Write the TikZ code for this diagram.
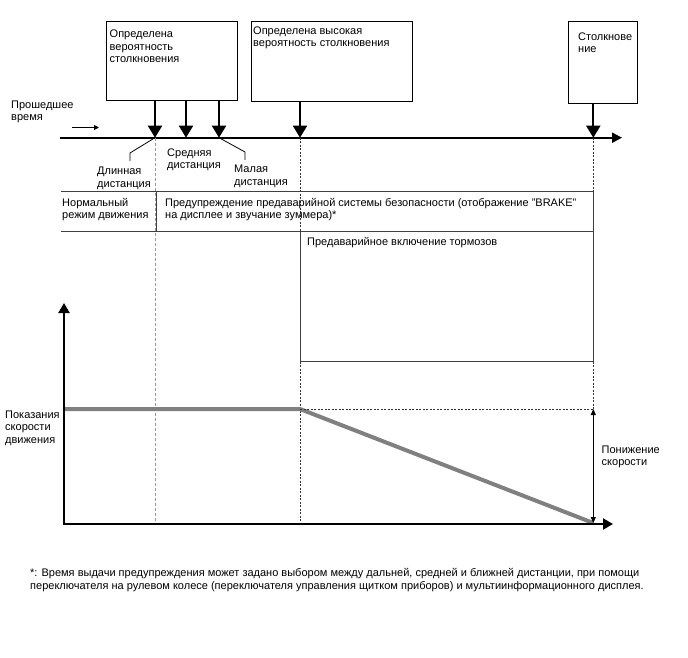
\documentclass[tikz,border=0pt]{standalone}
\usepackage{fontspec}
\setmainfont{Liberation Sans}
\usetikzlibrary{arrows.meta}
\begin{document}
\begin{tikzpicture}[x=1pt,y=-1pt,
  txt/.style={font=\fontsize{11}{12.5}\selectfont, inner sep=0pt, anchor=base west, align=left},
  evbox/.style={draw=black, line width=1pt, anchor=north west, inner sep=0pt},
  evarrow/.style={line width=2pt, -{Triangle[width=14pt,length=12pt]}},
  leader/.style={line width=0.8pt, black},
  tline/.style={draw=black!75, line width=1pt},
  axis/.style={line width=2.2pt, -{Triangle[width=11pt,length=10pt]}},
  gdash/.style={draw=black!40, line width=1pt, dash pattern=on 3pt off 2pt},
  kdot/.style={draw=black!80, line width=1pt, dash pattern=on 2pt off 1.5pt},
  speed/.style={draw=black!50, line width=4pt},
]
\useasboundingbox (0,0) rectangle (688,658);

% event boxes
\node[evbox, minimum width=131pt, minimum height=79pt] (b1) at (106,21) {};
\node[evbox, minimum width=161pt, minimum height=80pt] (b2) at (251,21) {};
\node[evbox, minimum width=69pt, minimum height=82pt] (b3) at (568,21) {};
\node[txt] (t1) at (109.5,63) {Определена\\вероятность\\столкновения};
\node[txt] (t2) at (253,47) {Определена высокая\\вероятность столкновения};
\node[txt] (t3) at (578,53) {Столкнове\\ние};

% timeline
\coordinate (tl0) at (60,137.7);
\coordinate (tl1) at (622,137.7);
\draw[line width=2pt, -{Triangle[width=10pt,length=10pt]}] (tl0) -- (tl1);
\node[txt] (elapsed) at (11,121) {Прошедшее\\время};
\coordinate (ea0) at (72,127.5);
\coordinate (ea1) at (99,127.5);
\draw[line width=1pt, -{Triangle[width=5pt,length=5pt]}] (ea0) -- (ea1);

% event points on timeline
\coordinate (pL) at (155,137.7);
\coordinate (pM) at (186,137.7);
\coordinate (pS) at (219,137.7);
\coordinate (pH) at (300,137.7);
\coordinate (pC) at (593.3,137.7);
\draw[evarrow] (b1.south -| pL) -- (pL);
\draw[evarrow] (b1.south -| pM) -- (pM);
\draw[evarrow] (b1.south -| pS) -- (pS);
\draw[evarrow] (b2.south -| pH) -- (pH);
\draw[evarrow] (b3.south -| pC) -- (pC);

% distance labels
\node[txt] (long) at (97,187) {Длинная\\дистанция};
\node[txt] (mid) at (167,168.5) {Средняя\\дистанция};
\node[txt] (short) at (234,185) {Малая\\дистанция};
\coordinate (lk1) at (130,153);
\coordinate (lk2) at (130,161);
\coordinate (sk1) at (245,152);
\coordinate (sk2) at (245,160);
\draw[leader] (pL) -- (lk1) -- (lk2);
\draw[leader] (pS) -- (sk1) -- (sk2);

% vertical guide lines
\coordinate (gL) at (155,524);
\coordinate (gH) at (300,524);
\coordinate (gC) at (593.3,409);
\draw[gdash] (pL) -- (gL);
\draw[kdot] (pH) -- (gH);
\draw[kdot] (pC) -- (gC);

% table
\coordinate (r0) at (61,191);
\coordinate (r1) at (593.3,191);
\coordinate (r2) at (61,231);
\coordinate (r3) at (593.3,231);
\coordinate (n0) at (156.5,191);
\coordinate (n1) at (156.5,231);
\coordinate (br0) at (300,231);
\coordinate (br1) at (300,361);
\coordinate (br2) at (593.3,361);
\draw[tline] (r0) -- (r1);
\draw[tline] (r2) -- (r3);
\draw[tline] (n0) -- (n1);
\draw[tline] (r1) -- (br2) -- (br1) -- (br0);
\node[txt] (normal) at (62,218.5) {Нормальный\\режим движения};
\node[txt] (warn) at (165,218.5) {Предупреждение предаварийной системы безопасности (отображение "BRAKE"\\на дисплее и звучание зуммера)*};
\node[txt] (brake) at (307,245) {Предаварийное включение тормозов};

% speed graph
\coordinate (o) at (64,524);
\coordinate (yt) at (64,303);
\coordinate (xt) at (613,524);
\coordinate (s0) at (64,409);
\coordinate (s1) at (300,409);
\coordinate (s2) at (593.3,523);
\coordinate (d1) at (593.3,409);
\draw[speed] (s0) -- (s1) -- (s2);
\draw[kdot, line width=0.8pt] (s1) -- (d1);
\draw[line width=1pt, {Triangle[width=5pt,length=6pt]}-{Triangle[width=5pt,length=6pt]}] (d1) -- (s2);
\draw[axis] (o) -- (yt);
\draw[axis] ([xshift=-1.1pt]o) -- (xt);
\node[txt] (speedlbl) at (5,443) {Показания\\скорости\\движения};
\node[txt] (decel) at (601.5,465.5) {Понижение\\скорости};

% footnote
\node[txt] (foot) at (30,589) {*: Время выдачи предупреждения может задано выбором между дальней, средней и ближней дистанции, при помощи\\переключателя на рулевом колесе (переключателя управления щитком приборов) и мультиинформационного дисплея.};
\end{tikzpicture}
\end{document}
